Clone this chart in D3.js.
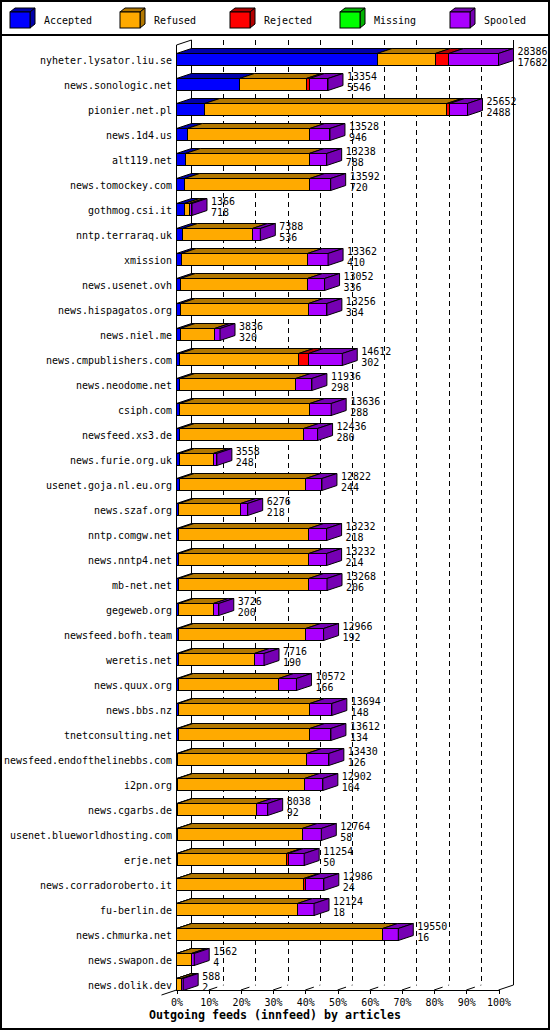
<!DOCTYPE html>
<html><head><meta charset="utf-8">
<script src="https://cdn.jsdelivr.net/npm/d3@7"></script>
<style>
body{margin:0;background:#fff}
svg{display:block}
text{font-family:"DejaVu Sans Mono","Liberation Mono",monospace;fill:#000}
</style>
</head><body>
<svg id="chart" width="550" height="1030"></svg>
<script>
const hosts = ["nyheter.lysator.liu.se","news.sonologic.net","pionier.net.pl","news.1d4.us","alt119.net","news.tomockey.com","gothmog.csi.it","nntp.terraraq.uk","xmission","news.usenet.ovh","news.hispagatos.org","news.niel.me","news.cmpublishers.com","news.neodome.net","csiph.com","newsfeed.xs3.de","news.furie.org.uk","usenet.goja.nl.eu.org","news.szaf.org","nntp.comgw.net","news.nntp4.net","mb-net.net","gegeweb.org","newsfeed.bofh.team","weretis.net","news.quux.org","news.bbs.nz","tnetconsulting.net","newsfeed.endofthelinebbs.com","i2pn.org","news.cgarbs.de","usenet.blueworldhosting.com","erje.net","news.corradoroberto.it","fu-berlin.de","news.chmurka.net","news.swapon.de","news.dolik.dev"];
const offered = [28386,13354,25652,13528,13238,13592,1366,7388,13362,13052,13256,3836,14612,11936,13636,12436,3558,12822,6276,13232,13232,13268,3726,12966,7716,10572,13694,13612,13430,12902,8038,12764,11254,12986,12124,19550,1562,588];
const accepted = [17682,5546,2488,946,788,720,718,536,410,336,334,320,302,298,288,280,248,244,218,218,214,206,200,192,190,166,148,134,126,104,92,58,50,24,18,16,4,2];
const refused = [5129,5895,21348,10804,10904,11030,400,6150,11134,11208,11300,3040,10476,10216,11462,10940,2992,11152,5436,11444,11448,11456,3040,11204,6672,8846,11602,11616,11360,11176,6976,11016,9640,11200,10643,18154,1300,420];
const rejected = [1184,282,247,0,0,0,0,0,0,0,0,0,854,0,0,0,0,0,0,0,0,0,0,0,0,0,0,0,0,0,0,0,150,150,0,0,0,0];
const missing = [0,0,0,0,0,0,0,0,0,0,0,0,0,0,0,0,0,0,0,0,0,0,0,0,0,0,0,0,0,0,0,0,0,0,0,0,0,0];
const spooled = [4391,1631,1569,1778,1546,1842,248,702,1818,1508,1622,476,2980,1422,1886,1216,318,1426,622,1570,1570,1606,486,1570,854,1560,1944,1862,1944,1622,970,1690,1414,1612,1463,1380,258,166];
const seriesNames = ["Accepted","Refused","Rejected","Missing","Spooled"];
const seriesFront = ["#0000ff","#ffaa00","#ff0000","#00ff00","#aa00ff"];
const seriesDark = ["#0000aa","#b37800","#b30000","#00b300","#7600b3"];
const pctTicks = [0,10,20,30,40,50,60,70,80,90,100];
const titleText = "Outgoing feeds (innfeed) by articles";

const series = [accepted, refused, rejected, missing, spooled];
const svg = d3.select("#chart");
const W = 550, H = 1030;
const X0 = 176.5, X1 = 498.5, DX = 15, DY = 5;
const TOP = 40, FLOOR = 990;

function mono(sel, fs) {
  sel.attr("font-size", fs || "11px")
     .attr("textLength", function() { return this.textContent.length * 6; })
     .attr("lengthAdjust", "spacingAndGlyphs");
  return sel;
}

const x = d3.scaleLinear().domain([0, d3.max(offered)]).range([X0, X1]);
const pct = d3.scaleLinear().domain([0, 100]).range([X0, X1]);
const y = d3.scalePoint().domain(hosts).range([59.5, 59.5 + 25 * (hosts.length - 1)]);

svg.append("rect").attr("x",0).attr("y",0).attr("width",W).attr("height",H).attr("fill","#fff");

// legend
const lg = svg.append("g");
seriesNames.forEach((n, j) => {
  const bx = 10 + 110 * j, by = 12, bw = 20, bh = 16, ldx = 5, ldy = 4;
  lg.append("polygon").attr("points", [[bx,by],[bx+bw,by],[bx+bw+ldx,by-ldy],[bx+ldx,by-ldy]].join(" "))
    .attr("fill", seriesDark[j]).attr("stroke","#000");
  lg.append("polygon").attr("points", [[bx+bw,by],[bx+bw+ldx,by-ldy],[bx+bw+ldx,by+bh-ldy],[bx+bw,by+bh]].join(" "))
    .attr("fill", seriesDark[j]).attr("stroke","#000");
  lg.append("rect").attr("x",bx).attr("y",by).attr("width",bw).attr("height",bh)
    .attr("fill", seriesFront[j]).attr("stroke","#000");
  lg.append("text").attr("x", bx + 34).attr("y", 24).text(n).call(mono);
});

// frame lines
const fr = svg.append("g").attr("stroke","#000").attr("fill","none").attr("shape-rendering","crispEdges");
fr.append("line").attr("x1",X0+DX).attr("y1",TOP).attr("x2",X0+DX).attr("y2",FLOOR-DY);
fr.append("line").attr("x1",X0).attr("y1",TOP+DY).attr("x2",X0).attr("y2",FLOOR);
fr.append("line").attr("x1",X1+DX).attr("y1",TOP).attr("x2",X1+DX).attr("y2",FLOOR-DY);
fr.append("line").attr("x1",X0).attr("y1",FLOOR).attr("x2",X1).attr("y2",FLOOR);
const fr2 = svg.append("g").attr("stroke","#000").attr("fill","none");
fr2.append("line").attr("x1",X1).attr("y1",FLOOR).attr("x2",X1+DX).attr("y2",FLOOR-DY);
fr2.append("line").attr("x1",X0-DX).attr("y1",FLOOR+DY).attr("x2",X0+DX).attr("y2",FLOOR-DY);
fr2.append("line").attr("x1",X0).attr("y1",TOP+DY).attr("x2",X0+DX).attr("y2",TOP);

// dashed grid
const inner = pctTicks.filter(d => d > 0 && d < 100);
const gg = svg.append("g").attr("stroke","#000").attr("stroke-dasharray","5,4");
gg.selectAll("line.v").data(inner).join("line").attr("class","v")
  .attr("shape-rendering","crispEdges")
  .attr("x1", d => pct(d) + DX).attr("x2", d => pct(d) + DX)
  .attr("y1", TOP).attr("y2", FLOOR - DY);
gg.selectAll("line.d").data(inner).join("line").attr("class","d")
  .attr("stroke-dasharray","9,6")
  .attr("x1", d => pct(d)).attr("x2", d => pct(d) + DX)
  .attr("y1", FLOOR).attr("y2", FLOOR - DY);

// axis
const ax = svg.append("g").attr("transform", `translate(0,${FLOOR})`)
  .call(d3.axisBottom(pct).tickValues(pctTicks).tickSize(4).tickFormat(d => d + "%"));
ax.select(".domain").remove();
ax.selectAll(".tick line").attr("stroke","#000").attr("shape-rendering","crispEdges");
ax.selectAll(".tick text").attr("y", 8).attr("font-family","DejaVu Sans Mono, monospace")
  .attr("fill","#000").call(mono);

// bars
const bars = svg.append("g");
hosts.forEach((h, i) => {
  const c = y(h);
  const g = bars.append("g");
  let cum = 0, lastEnd = null, lastIdx = -1;
  series.forEach((s, j) => {
    const v = s[i];
    if (v <= 0) return;
    const a = x(cum), b = x(cum + v);
    g.append("polygon").attr("points", [[a,c-6],[b,c-6],[b+DX,c-6-DY],[a+DX,c-6-DY]].join(" "))
      .attr("fill", seriesDark[j]).attr("stroke","#000").attr("stroke-linejoin","miter");
    g.append("rect").attr("x", a).attr("y", c-6).attr("width", Math.max(b-a, 0.01)).attr("height", 12)
      .attr("fill", seriesFront[j]).attr("stroke","#000").attr("shape-rendering","crispEdges");
    cum += v; lastEnd = b; lastIdx = j;
  });
  if (lastIdx >= 0) {
    const b = lastEnd;
    g.append("polygon").attr("points", [[b,c-6],[b+DX,c-6-DY],[b+DX,c+6-DY],[b,c+6]].join(" "))
      .attr("fill", seriesDark[lastIdx]).attr("stroke","#000");
  }
  // labels
  g.append("text").attr("x", 172).attr("y", c + 4).attr("text-anchor","end").text(h).call(mono);
  const tx = x(offered[i]) + 19;
  g.append("text").attr("x", tx).attr("y", c - 5).text(offered[i]).call(mono, "10.5px");
  g.append("text").attr("x", tx).attr("y", c + 6).text(accepted[i]).call(mono, "10.5px");
});

// title
svg.append("text").attr("x", 275).attr("y", 1019).attr("text-anchor","middle")
  .attr("font-size","12px").attr("font-weight","bold")
  .attr("textLength", 252).attr("lengthAdjust","spacingAndGlyphs").text(titleText);

// borders
svg.append("line").attr("x1",0).attr("x2",W).attr("y1",35).attr("y2",35).attr("stroke","#000").attr("stroke-width",2);
svg.append("rect").attr("x",1).attr("y",1).attr("width",W-2).attr("height",H-2)
  .attr("fill","none").attr("stroke","#000").attr("stroke-width",2);
</script>
</body></html>
